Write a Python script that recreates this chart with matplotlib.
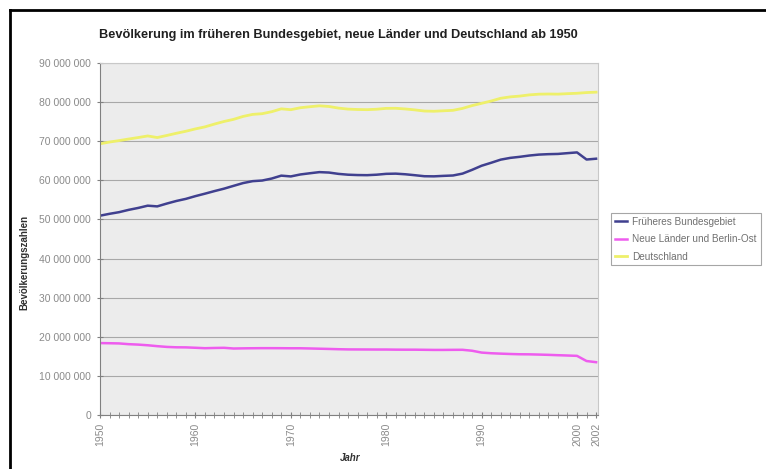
import numpy as np
import matplotlib.pyplot as plt
from matplotlib.ticker import FuncFormatter, MultipleLocator
from matplotlib.lines import Line2D

plt.rcParams['font.family'] = ['Liberation Sans', 'DejaVu Sans']

# Jahre 1950 - 2002
jahre = list(range(1950, 2003))

# Bevölkerung in Millionen
frueheres_bundesgebiet = [
    50.96, 51.44, 51.86, 52.45, 52.94, 53.52, 53.34, 54.06, 54.72, 55.26,
    55.96, 56.59, 57.25, 57.87, 58.59, 59.30, 59.79, 59.95, 60.46, 61.20,
    61.00, 61.50, 61.81, 62.10, 61.99, 61.65, 61.44, 61.35, 61.32, 61.44,
    61.66, 61.71, 61.55, 61.31, 61.05, 61.02, 61.14, 61.24, 61.72, 62.68,
    63.73, 64.49, 65.29, 65.74, 66.01, 66.34, 66.58, 66.69, 66.75, 66.95,
    67.14, 65.32, 65.53]
neue_laender = [
    18.39, 18.35, 18.30, 18.11, 18.00, 17.83, 17.60, 17.41, 17.31, 17.29,
    17.19, 17.08, 17.14, 17.18, 17.00, 17.04, 17.07, 17.09, 17.09, 17.08,
    17.06, 17.06, 17.01, 16.95, 16.89, 16.82, 16.77, 16.76, 16.75, 16.74,
    16.74, 16.71, 16.70, 16.70, 16.67, 16.64, 16.64, 16.66, 16.67, 16.43,
    15.96, 15.79, 15.69, 15.60, 15.53, 15.51, 15.45, 15.38, 15.29, 15.21,
    15.12, 13.80, 13.50]
deutschland = [
    69.35, 69.79, 70.16, 70.56, 70.94, 71.35, 70.94, 71.47, 72.03, 72.55,
    73.15, 73.67, 74.39, 75.05, 75.59, 76.34, 76.86, 77.04, 77.55, 78.28,
    78.06, 78.56, 78.82, 79.05, 78.88, 78.47, 78.21, 78.11, 78.07, 78.18,
    78.40, 78.42, 78.25, 78.01, 77.72, 77.66, 77.78, 77.90, 78.39, 79.11,
    79.69, 80.28, 80.98, 81.34, 81.54, 81.85, 82.03, 82.07, 82.04, 82.16,
    82.26, 82.44, 82.54]

x_labels = [1950, 1960, 1970, 1980, 1990, 2000, 2002]

farbe_west = '#40408f'
farbe_ost = '#ee5cee'
farbe_de = '#eef06a'
grau = '#8a8a8a'

fig = plt.figure(figsize=(7.66, 4.69), dpi=100)
fig.patch.set_facecolor('white')

# schwarzer Rahmen oben und links
fig.add_artist(Line2D([10 / 766, 1.0], [1 - 10 / 469, 1 - 10 / 469],
                      transform=fig.transFigure, color='black', lw=2))
fig.add_artist(Line2D([10 / 766, 10 / 766], [0, 1 - 10 / 469],
                      transform=fig.transFigure, color='black', lw=2))

ax = fig.add_axes([100 / 766, 1 - 415 / 469, 498 / 766, 352 / 469])
ax.set_facecolor('#ececec')

def mio(werte):
    return np.array(werte) * 1e6

ax.plot(jahre, mio(frueheres_bundesgebiet), color=farbe_west, lw=1.8,
        label='Früheres Bundesgebiet')
ax.plot(jahre, mio(neue_laender), color=farbe_ost, lw=1.8,
        label='Neue Länder und Berlin-Ost')
ax.plot(jahre, mio(deutschland), color=farbe_de, lw=2.0,
        label='Deutschland')

ax.set_xlim(1950, 2002.2)
ax.set_ylim(0, 90e6)
ax.yaxis.set_major_locator(MultipleLocator(10e6))
ax.yaxis.set_major_formatter(
    FuncFormatter(lambda v, p: f'{int(v):,}'.replace(',', ' ')))
ax.grid(axis='y', color='#a8a8a8', lw=0.8)
ax.set_axisbelow(True)

ax.set_xticks(x_labels)
ax.set_xticklabels([str(j) for j in x_labels], rotation=90)
ax.set_xticks(jahre, minor=True)

for s in ['top', 'right']:
    ax.spines[s].set_color('#c8c8c8')
for s in ['left', 'bottom']:
    ax.spines[s].set_color('#808080')

ax.tick_params(axis='both', which='both', colors='#808080', labelcolor=grau,
               labelsize=7.5, direction='inout')
ax.tick_params(axis='y', length=5, pad=4)
ax.tick_params(axis='x', which='major', length=5, pad=3)
ax.tick_params(axis='x', which='minor', length=4)

fig.text(338 / 766, 1 - 35 / 469,
         'Bevölkerung im früheren Bundesgebiet, neue Länder und Deutschland ab 1950',
         ha='center', va='center', fontsize=9.2, fontweight='bold', color='#202020')
fig.text(350 / 766, 1 - 458 / 469, 'Jahr', ha='center', va='center',
         fontsize=7, fontweight='bold', fontstyle='italic', color='#303030')
fig.text(24 / 766, 1 - 262 / 469, 'Bevölkerungszahlen', ha='center', va='center',
         rotation=90, fontsize=7, fontweight='bold', color='#303030')

leg = fig.legend(loc='upper left', bbox_to_anchor=(611 / 766, 1 - 213 / 469),
                 fontsize=7.2, frameon=True, fancybox=False, handlelength=1.2,
                 handletextpad=0.6, borderpad=0.35, labelspacing=0.75,
                 borderaxespad=0)
leg.get_frame().set_edgecolor('#909090')
leg.get_frame().set_linewidth(0.8)
for t in leg.get_texts():
    t.set_color('#707070')

fig.savefig('out.png', dpi=100)
